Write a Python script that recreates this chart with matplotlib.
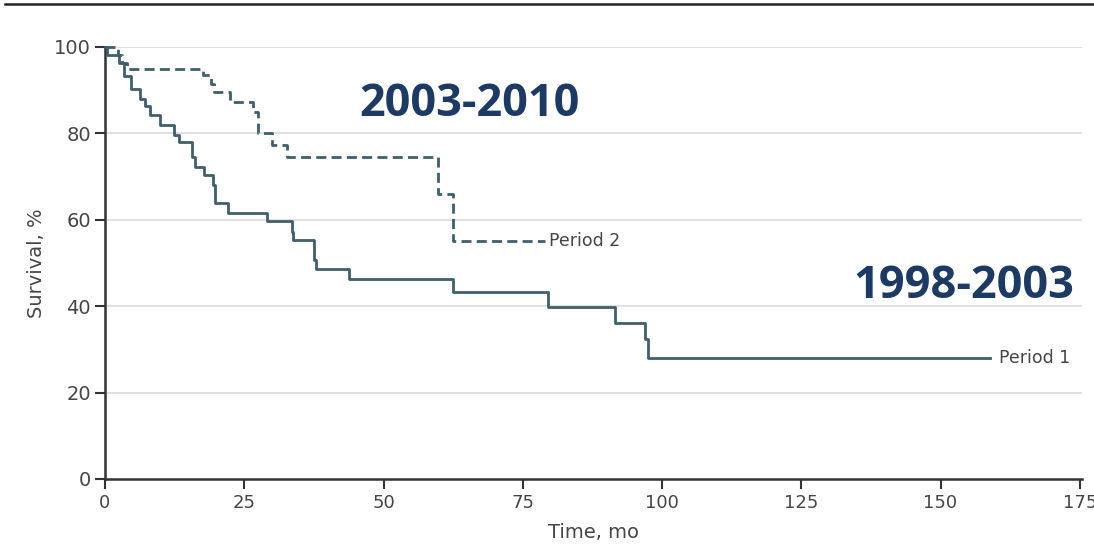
import matplotlib
matplotlib.use("Agg")
import matplotlib.pyplot as plt
from matplotlib.lines import Line2D

# ---- data ----
p1_time = [0, 0.3, 2.5, 3.4, 4.6, 6.3, 7.2, 8.1, 9.9, 12.3, 13.2, 15.7, 16.2, 17.8,
           19.3, 19.8, 22.0, 29.1, 33.5, 33.8, 37.6, 37.9, 43.8, 62.5, 79.6, 91.5,
           96.9, 97.5, 158.9]
p1_surv = [100, 98.2, 96.3, 93.4, 90.2, 88.0, 86.3, 84.3, 82.0, 79.7, 78.1, 74.5, 72.3,
           70.4, 68.0, 64.0, 61.6, 59.7, 57.2, 55.3, 50.7, 48.5, 46.4, 43.4, 39.9, 36.2,
           32.3, 27.9, 27.9]

p2_time = [0, 2.3, 3.0, 4.0, 17.6, 19.1, 19.6, 22.4, 26.6, 27.5, 29.9, 32.6, 59.8, 62.4, 79.0]
p2_surv = [100, 98.2, 96.3, 94.8, 93.5, 91.5, 89.5, 87.3, 85.0, 80.0, 77.3, 74.6, 65.9, 55.2, 55.2]

x_ticks = [0, 25, 50, 75, 100, 125, 150, 175]
y_ticks = [0, 20, 40, 60, 80, 100]
label_p1 = "Period 1"
label_p2 = "Period 2"
era_p1 = "1998-2003"
era_p2 = "2003-2010"

line_color = "#3f5f6a"
text_gray = "#454545"
navy = "#1c3a62"

fig = plt.figure(figsize=(10.94, 5.47), dpi=100)
ax = fig.add_axes([105 / 1094, 1 - 479 / 547, (1082 - 105) / 1094, (479 - 47) / 547])

ax.set_xlim(0, 175.4)
ax.set_ylim(0, 100)

for y in y_ticks[1:]:
    ax.axhline(y, color="#dedede", lw=1.3, zorder=0)

ax.step(p1_time, p1_surv, where="post", color=line_color, lw=2.0, clip_on=False, zorder=3)
ax.step(p2_time, p2_surv, where="post", color=line_color, lw=2.0, clip_on=False,
        dashes=(3.6, 1.9), zorder=3)

for s in ["top", "right"]:
    ax.spines[s].set_visible(False)
for s in ["left", "bottom"]:
    ax.spines[s].set_color("#333333")
    ax.spines[s].set_linewidth(1.8)

ax.set_xticks(x_ticks)
ax.set_yticks(y_ticks)
ax.tick_params(axis="both", direction="out", color="#333333", width=1.5, length=7,
               labelcolor=text_gray)
ax.tick_params(axis="y", labelsize=14, pad=3)
ax.tick_params(axis="x", labelsize=13, pad=4)

ax.set_xlabel("Time, mo", fontsize=14, color=text_gray, labelpad=8)
ax.set_ylabel("Survival, %", fontsize=14, color=text_gray, labelpad=6)

ax.text(79.8, 55.2, label_p2, fontsize=12.5, color=text_gray, va="center", ha="left")
ax.text(160.5, 27.9, label_p1, fontsize=12.5, color=text_gray, va="center", ha="left",
        clip_on=False)

ax.text(65.5, 86.8, era_p2, fontsize=32.5, fontweight="bold", color=navy,
        ha="center", va="center", family=["Open Sans", "DejaVu Sans"])
ax.text(174.0, 44.6, era_p1, fontsize=32.5, fontweight="bold", color=navy,
        ha="right", va="center", family=["Open Sans", "DejaVu Sans"])

# slide rule line at the very top
fig.add_artist(Line2D([5 / 1094, 1.0], [1 - 4 / 547, 1 - 4 / 547], color="#222222", lw=1.8))

fig.savefig("out.png", dpi=100)
